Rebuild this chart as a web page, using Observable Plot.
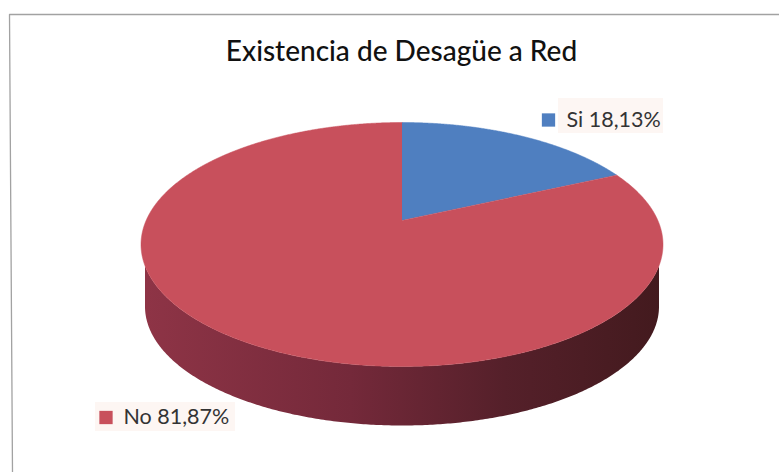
<!DOCTYPE html>
<html><head><meta charset="utf-8">
<script src="https://cdn.jsdelivr.net/npm/d3@7"></script>
<script src="https://cdn.jsdelivr.net/npm/@observablehq/plot@0.6"></script>
<style>html,body{margin:0;padding:0;background:#fff}</style>
</head><body>
<div id="chart"></div>
<script>
const titleText = "Existencia de Desagüe a Red";
const categories = ["Si", "No"];
const shares = [18.13, 81.87];
const labels = ["18,13%", "81,87%"];
const colors = ["#4f7fc0", "#c8505c"];

const W = 779, H = 472;
const top_ = {cx: 401.5, cy: 244, rx: 261, ry: 122};
const bot = {cx: 401.5, cy: 306, rx: 257, ry: 119};
const tilt = 0.197; // perspective shift of the pie's centre

// perspective view of a unit-disc point at a clockwise angle from 12 o'clock
function onTop(a, r = 1) {
  const u = r * Math.sin(a), v = r * Math.cos(a);
  const d = 1 + tilt * v;
  const px = u * Math.sqrt(1 - tilt * tilt) / d, py = (v + tilt) / d;
  return {x: top_.cx + top_.rx * px, y: top_.cy - top_.ry * py};
}
const ell = (e, t) => ({x: e.cx + e.rx * Math.sin(t), y: e.cy - e.ry * Math.cos(t)});

const total = d3.sum(shares);
let acc = 0;
const slices = [];
categories.forEach((c, i) => {
  const a0 = acc / total * 2 * Math.PI;
  acc += shares[i];
  const a1 = acc / total * 2 * Math.PI;
  slices.push({c, ...onTop(0, 0)});
  for (const a of d3.range(a0, a1, 0.005)) slices.push({c, ...onTop(a)});
  slices.push({c, ...onTop(a1)});
});

// side wall: from where the top rim meets the lower rim's extreme, round the front
const t0 = Math.PI / 2 + Math.acos(bot.rx / top_.rx);
const t1 = 2 * Math.PI - t0;
const side = [];
for (const t of d3.range(t0, t1, 0.01)) side.push(ell(top_, t));
side.push(ell(top_, t1));
for (const t of d3.range(3 * Math.PI / 2, Math.PI / 2, -0.01)) side.push(ell(bot, t));
side.push(ell(bot, Math.PI / 2));

const legend = [
  {c: "Si", x: 548, y: 119.5, label: `Si ${labels[0]}`, tx: 566, bx1: 558, bx2: 663, by1: 98, by2: 133},
  {c: "No", x: 105.5, y: 417, label: `No ${labels[1]}`, tx: 123, bx1: 95, bx2: 235, by1: 402, by2: 431}
];
const frame = [{x: 9, y: 472}, {x: 12, y: 432}, {x: 9, y: 14}, {x: 779, y: 14}].slice(0);

const gradient = () => {
  const s = d3.create("svg:defs");
  const g = s.append("linearGradient").attr("id", "sideShade");
  [[0, "#8e3446"], [0.4, "#74293a"], [0.7, "#55202a"], [1, "#431a1e"]].forEach(([o, c]) =>
    g.append("stop").attr("offset", o).attr("stop-color", c));
  return s.node();
};

const plot = Plot.plot({
  width: W, height: H, margin: 0,
  style: {background: "#fff", fontFamily: "Lato, 'Open Sans', sans-serif"},
  x: {domain: [0, W], range: [0, W], axis: null},
  y: {domain: [0, H], range: [0, H], axis: null},
  color: {type: "ordinal", domain: categories, range: colors},
  marks: [
    gradient,
    Plot.line([{x: 12, y: 472}, {x: 9, y: 14}, {x: 779, y: 14}], {x: "x", y: "y", stroke: "#a2a2a2", strokeWidth: 1.3}),
    Plot.rect(legend, {x1: "bx1", x2: "bx2", y1: "by1", y2: "by2", fill: "#fdf6f3", stroke: "none"}),
    Plot.line(side, {x: "x", y: "y", fill: "url(#sideShade)", stroke: "none"}),
    Plot.line(slices, {x: "x", y: "y", z: "c", fill: "c", stroke: "c", strokeWidth: 0.5}),
    Plot.dot(legend, {x: "x", y: "y", symbol: "square", r: 7.5, fill: "c", stroke: "none"}),
    Plot.text(legend, {x: "tx", y: "y", text: "label", textAnchor: "start", fontSize: 21.5, fill: "#333"}),
    Plot.text([titleText], {x: 401, y: 52, text: d => d, fontSize: 28, fontWeight: 500, fill: "#111"})
  ]
});
document.getElementById("chart").appendChild(plot);
</script>
</body></html>
